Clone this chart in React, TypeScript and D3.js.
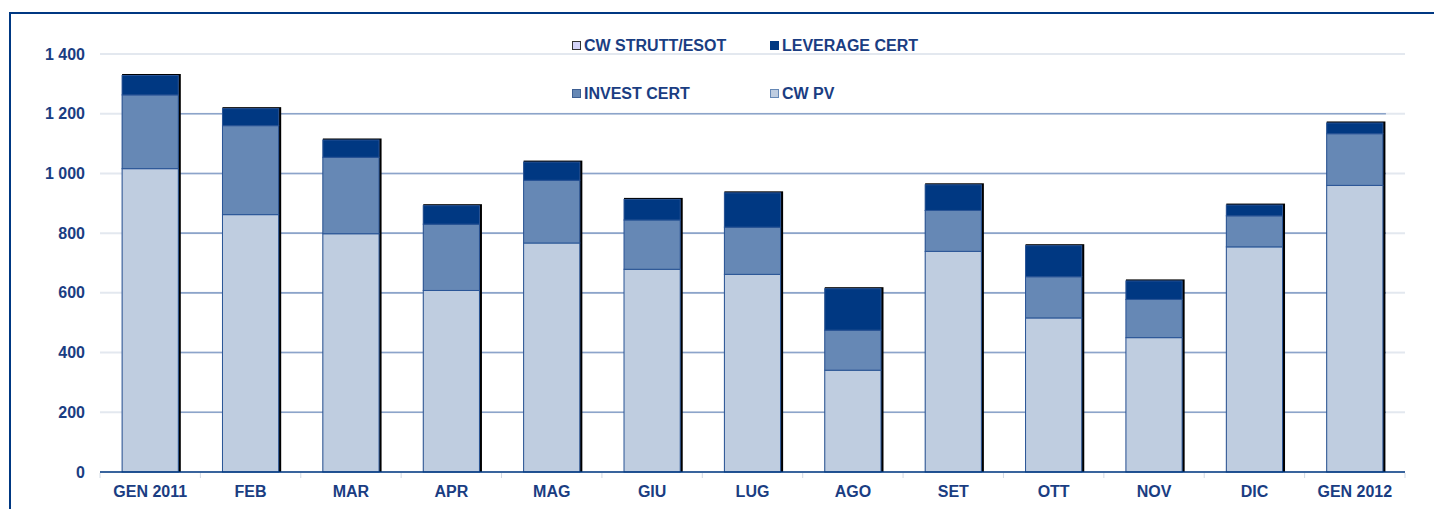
import React from 'react'
import * as d3 from 'd3'

const months = ['GEN 2011', 'FEB', 'MAR', 'APR', 'MAG', 'GIU', 'LUG', 'AGO', 'SET', 'OTT', 'NOV', 'DIC', 'GEN 2012']
const cwPv = [1016, 862, 798, 608, 767, 679, 662, 341, 739, 516, 450, 754, 960]
const investCert = [247, 298, 256, 222, 210, 165, 158, 134, 137, 138, 128, 104, 173]
const leverageCert = [65, 57, 58, 62, 61, 69, 115, 139, 86, 104, 62, 36, 36]
const cwStrutt = [0, 0, 0, 0, 0, 0, 0, 0, 0, 0, 0, 0, 0]
const yTicks = [0, 200, 400, 600, 800, 1000, 1200, 1400]

const seriesKeys = ['pv', 'invest', 'leverage', 'strutt']
const colors: Record<string, string> = {
    pv: '#bfcde0',
    invest: '#6688b5',
    leverage: '#003882',
    strutt: '#d4d4f8',
}

const legend = [
    { key: 'strutt', label: 'CW STRUTT/ESOT', x: 572, y: 41, stroke: '#333' },
    { key: 'leverage', label: 'LEVERAGE CERT', x: 770, y: 41, stroke: '#003882' },
    { key: 'invest', label: 'INVEST CERT', x: 572, y: 89, stroke: '#3d5f92' },
    { key: 'pv', label: 'CW PV', x: 770, y: 89, stroke: '#6688b5' },
]

const textColor = '#1a3d82'
const font = '"Liberation Sans", Arial, sans-serif'

export default function App() {
    const width = 1434
    const height = 509
    const left = 100
    const right = 1405
    const bottom = 472
    const top = 54

    const table = months.map((m, i) => ({
        month: m,
        pv: cwPv[i],
        invest: investCert[i],
        leverage: leverageCert[i],
        strutt: cwStrutt[i],
    }))

    const stack = d3.stack<any>().keys(seriesKeys)(table)

    const x = d3.scaleBand()
        .domain(months)
        .range([left, right])
        .paddingInner(0.44)
        .paddingOuter(0.22)

    const y = d3.scaleLinear()
        .domain([0, 1400])
        .range([bottom, top])

    const fmt = d3.formatLocale({ decimal: ',', thousands: ' ', grouping: [3], currency: ['', ''] }).format(',')

    const bw = x.bandwidth()
    const step = x.step()
    const firstBar = x(months[0])!
    const lastBar = x(months[months.length - 1])! + bw + 3

    return (
        <svg width={width} height={height} style={{ position: 'absolute', left: 0, top: 0 }} fontFamily={font}>
            <rect x={0} y={0} width={width} height={height} fill="#fff" />
            <rect x={10} y={13} width={1440} height={600} fill="none" stroke="#003882" strokeWidth={2} />

            {/* grid */}
            {yTicks.map(t => (
                <g key={t}>
                    <line x1={left} x2={right} y1={y(t)} y2={y(t)} stroke="#e3e8ef" strokeWidth={2} />
                    {t > 0 && t < 1400 && (
                        <line x1={firstBar} x2={lastBar} y1={y(t)} y2={y(t)} stroke="#8ca4ca" strokeWidth={1.6} />
                    )}
                    <text x={85} y={y(t)} dy="0.35em" textAnchor="end" fontSize={16} fontWeight="bold" fill={textColor}>
                        {fmt(t)}
                    </text>
                </g>
            ))}

            {/* bars */}
            {table.map((d, i) => {
                const bx = x(d.month)!
                const total = stack[stack.length - 1][i][1]
                return (
                    <g key={d.month}>
                        <rect x={bx} y={y(total) - 1.5} width={bw + 2.5} height={bottom - y(total) + 1.5} fill="#000" />
                        {stack.map(s => {
                            const [y0, y1] = s[i]
                            if (y1 - y0 <= 0) return null
                            return (
                                <rect key={s.key} x={bx} y={y(y1)} width={bw} height={y(y0) - y(y1)}
                                    fill={colors[s.key]} stroke="#2a5597" strokeWidth={1} />
                            )
                        })}
                    </g>
                )
            })}

            {/* x axis */}
            <line x1={left} x2={right} y1={bottom} y2={bottom} stroke="#003882" strokeWidth={1.5} />
            {d3.range(months.length + 1).map(i => (
                <line key={i} x1={left + i * step} x2={left + i * step} y1={bottom + 1} y2={bottom + 6} stroke="#d3dae5" strokeWidth={1} />
            ))}
            {months.map(m => (
                <text key={m} x={x(m)! + bw / 2} y={497} textAnchor="middle" fontSize={16} fontWeight="bold" fill={textColor}>
                    {m}
                </text>
            ))}

            {/* legend */}
            {legend.map(l => (
                <g key={l.key}>
                    <rect x={l.x + 0.5} y={l.y + 0.5} width={8} height={8} fill={colors[l.key]} stroke={l.stroke} strokeWidth={1} />
                    <text x={l.x + 12} y={l.y + 10} fontSize={16} fontWeight="bold" fill={textColor}>{l.label}</text>
                </g>
            ))}
        </svg>
    )
}
